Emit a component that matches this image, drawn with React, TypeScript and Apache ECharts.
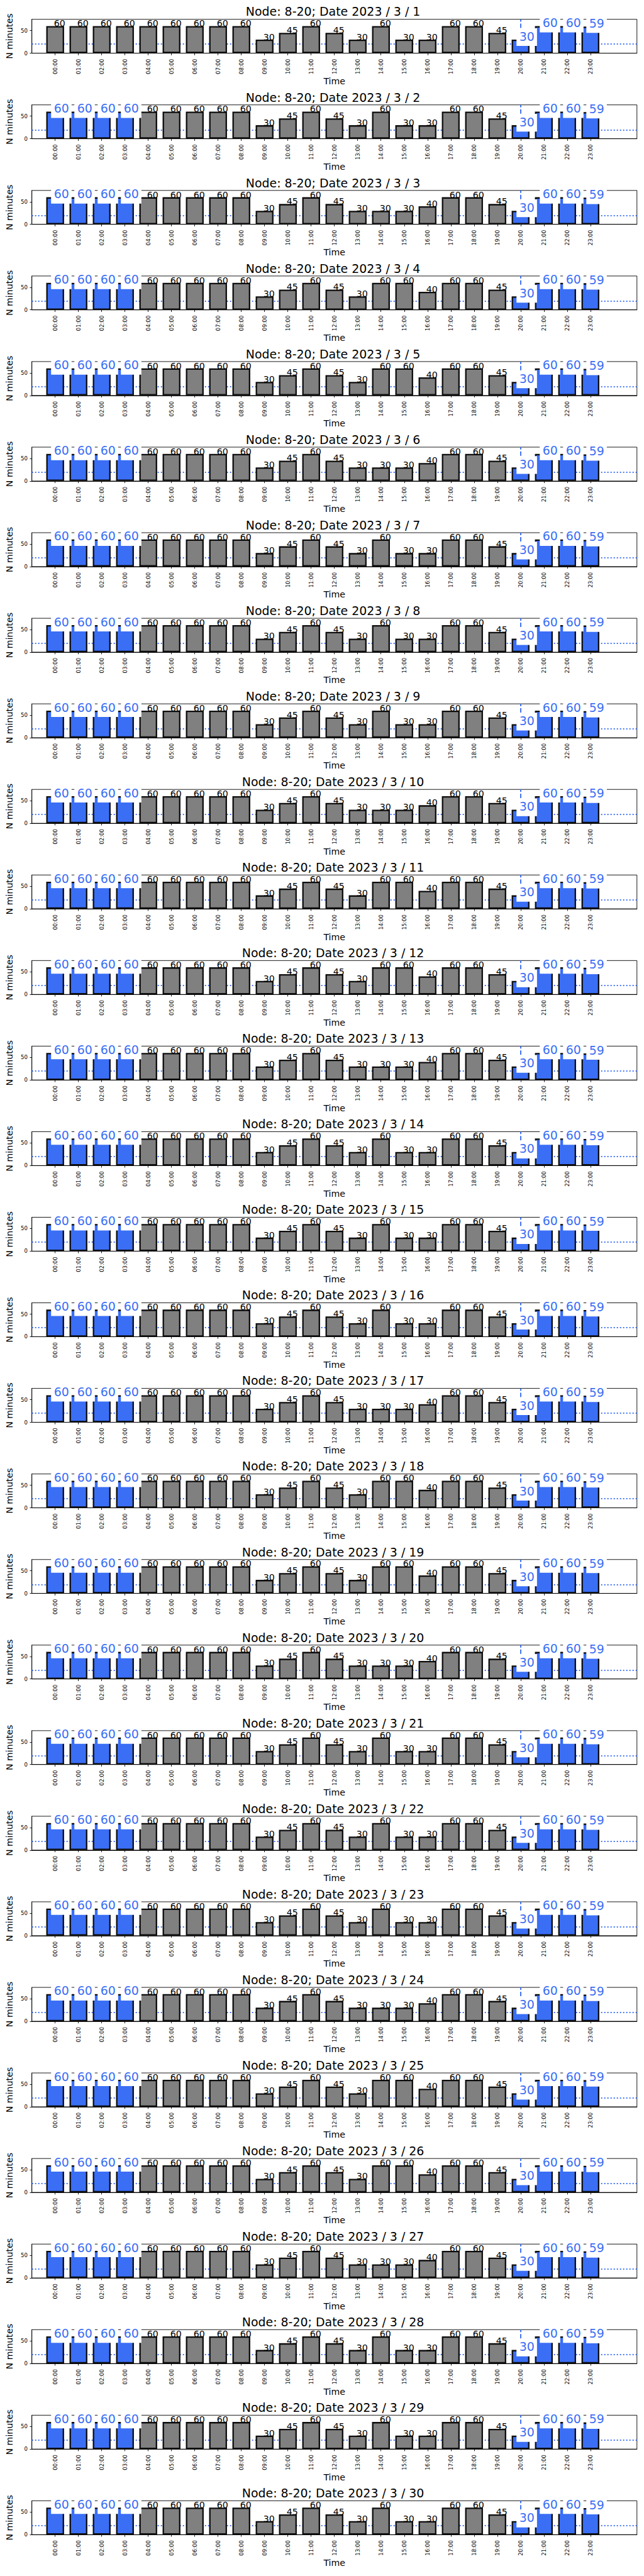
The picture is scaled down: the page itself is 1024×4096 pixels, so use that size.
import React, { useEffect, useRef } from 'react';
import * as echarts from 'echarts';

// ---------------- data ----------------
const NODE = '8-20';
const DATES = [
  '2023 / 3 / 1', '2023 / 3 / 2', '2023 / 3 / 3', '2023 / 3 / 4', '2023 / 3 / 5',
  '2023 / 3 / 6', '2023 / 3 / 7', '2023 / 3 / 8', '2023 / 3 / 9', '2023 / 3 / 10',
  '2023 / 3 / 11', '2023 / 3 / 12', '2023 / 3 / 13', '2023 / 3 / 14', '2023 / 3 / 15',
  '2023 / 3 / 16', '2023 / 3 / 17', '2023 / 3 / 18', '2023 / 3 / 19', '2023 / 3 / 20',
  '2023 / 3 / 21', '2023 / 3 / 22', '2023 / 3 / 23', '2023 / 3 / 24', '2023 / 3 / 25',
  '2023 / 3 / 26', '2023 / 3 / 27', '2023 / 3 / 28', '2023 / 3 / 29', '2023 / 3 / 30',
];
const HOURS = [
  '00:00', '01:00', '02:00', '03:00', '04:00', '05:00', '06:00', '07:00',
  '08:00', '09:00', '10:00', '11:00', '12:00', '13:00', '14:00', '15:00',
  '16:00', '17:00', '18:00', '19:00', '20:00', '21:00', '22:00', '23:00',
];
const Y_TICKS = [0, 50];
const Y_MAX = 75;
const THRESHOLD = 20;
const MARK_HOUR = '20:00';
const HIGHLIGHT_FIRST_DAY = [20, 21, 22, 23];
const HIGHLIGHT_OTHER_DAYS = [0, 1, 2, 3, 20, 21, 22, 23];

const MINUTES_BY_DAY: number[][] = [
  [60, 60, 60, 60, 60, 60, 60, 60, 60, 30, 45, 60, 45, 30, 60, 30, 30, 60, 60, 45, 30, 60, 60, 59], // 1
  [60, 60, 60, 60, 60, 60, 60, 60, 60, 30, 45, 60, 45, 30, 60, 30, 30, 60, 60, 45, 30, 60, 60, 59], // 2
  [60, 60, 60, 60, 60, 60, 60, 60, 60, 30, 45, 60, 45, 30, 30, 30, 40, 60, 60, 45, 30, 60, 60, 59], // 3
  [60, 60, 60, 60, 60, 60, 60, 60, 60, 30, 45, 60, 45, 30, 60, 60, 40, 60, 60, 45, 30, 60, 60, 59], // 4
  [60, 60, 60, 60, 60, 60, 60, 60, 60, 30, 45, 60, 45, 30, 60, 60, 40, 60, 60, 45, 30, 60, 60, 59], // 5
  [60, 60, 60, 60, 60, 60, 60, 60, 60, 30, 45, 60, 45, 30, 30, 30, 40, 60, 60, 45, 30, 60, 60, 59], // 6
  [60, 60, 60, 60, 60, 60, 60, 60, 60, 30, 45, 60, 45, 30, 60, 30, 30, 60, 60, 45, 30, 60, 60, 59], // 7
  [60, 60, 60, 60, 60, 60, 60, 60, 60, 30, 45, 60, 45, 30, 60, 30, 30, 60, 60, 45, 30, 60, 60, 59], // 8
  [60, 60, 60, 60, 60, 60, 60, 60, 60, 30, 45, 60, 45, 30, 60, 30, 30, 60, 60, 45, 30, 60, 60, 59], // 9
  [60, 60, 60, 60, 60, 60, 60, 60, 60, 30, 45, 60, 45, 30, 30, 30, 40, 60, 60, 45, 30, 60, 60, 59], // 10
  [60, 60, 60, 60, 60, 60, 60, 60, 60, 30, 45, 60, 45, 30, 60, 60, 40, 60, 60, 45, 30, 60, 60, 59], // 11
  [60, 60, 60, 60, 60, 60, 60, 60, 60, 30, 45, 60, 45, 30, 60, 60, 40, 60, 60, 45, 30, 60, 60, 59], // 12
  [60, 60, 60, 60, 60, 60, 60, 60, 60, 30, 45, 60, 45, 30, 30, 30, 40, 60, 60, 45, 30, 60, 60, 59], // 13
  [60, 60, 60, 60, 60, 60, 60, 60, 60, 30, 45, 60, 45, 30, 60, 30, 30, 60, 60, 45, 30, 60, 60, 59], // 14
  [60, 60, 60, 60, 60, 60, 60, 60, 60, 30, 45, 60, 45, 30, 60, 30, 30, 60, 60, 45, 30, 60, 60, 59], // 15
  [60, 60, 60, 60, 60, 60, 60, 60, 60, 30, 45, 60, 45, 30, 60, 30, 30, 60, 60, 45, 30, 60, 60, 59], // 16
  [60, 60, 60, 60, 60, 60, 60, 60, 60, 30, 45, 60, 45, 30, 30, 30, 40, 60, 60, 45, 30, 60, 60, 59], // 17
  [60, 60, 60, 60, 60, 60, 60, 60, 60, 30, 45, 60, 45, 30, 60, 60, 40, 60, 60, 45, 30, 60, 60, 59], // 18
  [60, 60, 60, 60, 60, 60, 60, 60, 60, 30, 45, 60, 45, 30, 60, 60, 40, 60, 60, 45, 30, 60, 60, 59], // 19
  [60, 60, 60, 60, 60, 60, 60, 60, 60, 30, 45, 60, 45, 30, 30, 30, 40, 60, 60, 45, 30, 60, 60, 59], // 20
  [60, 60, 60, 60, 60, 60, 60, 60, 60, 30, 45, 60, 45, 30, 60, 30, 30, 60, 60, 45, 30, 60, 60, 59], // 21
  [60, 60, 60, 60, 60, 60, 60, 60, 60, 30, 45, 60, 45, 30, 60, 30, 30, 60, 60, 45, 30, 60, 60, 59], // 22
  [60, 60, 60, 60, 60, 60, 60, 60, 60, 30, 45, 60, 45, 30, 60, 30, 30, 60, 60, 45, 30, 60, 60, 59], // 23
  [60, 60, 60, 60, 60, 60, 60, 60, 60, 30, 45, 60, 45, 30, 30, 30, 40, 60, 60, 45, 30, 60, 60, 59], // 24
  [60, 60, 60, 60, 60, 60, 60, 60, 60, 30, 45, 60, 45, 30, 60, 60, 40, 60, 60, 45, 30, 60, 60, 59], // 25
  [60, 60, 60, 60, 60, 60, 60, 60, 60, 30, 45, 60, 45, 30, 60, 60, 40, 60, 60, 45, 30, 60, 60, 59], // 26
  [60, 60, 60, 60, 60, 60, 60, 60, 60, 30, 45, 60, 45, 30, 30, 30, 40, 60, 60, 45, 30, 60, 60, 59], // 27
  [60, 60, 60, 60, 60, 60, 60, 60, 60, 30, 45, 60, 45, 30, 60, 30, 30, 60, 60, 45, 30, 60, 60, 59], // 28
  [60, 60, 60, 60, 60, 60, 60, 60, 60, 30, 45, 60, 45, 30, 60, 30, 30, 60, 60, 45, 30, 60, 60, 59], // 29
  [60, 60, 60, 60, 60, 60, 60, 60, 60, 30, 45, 60, 45, 30, 60, 30, 30, 60, 60, 45, 30, 60, 60, 59], // 30
];

// ---------------- styling / layout ----------------
const S = 0.682;
const px = (v: number) => v * S;
const W = 1023;
const H = 4092;
const FONT = "'DejaVu Sans', sans-serif";
const GREY = '#808080';
const BLUE = '#3A6EF5';
const EDGE = '#0d0d0d';

const GRID_LEFT = px(68);
const GRID_W = px(1417);
const GRID_TOP0 = px(45);
const GRID_H = px(79);
const PITCH = px(199.5);
const TITLE_X = px(776.5);
const TITLE_BASE0 = px(36.7);

const TITLE_FS = px(27.8);
const LABEL_FS = px(20.8);
const BLUE_FS = px(27.8);
const TICK_FS = px(12.5);
const AXNAME_FS = px(20.8);

// pad categories so that the axis spans from -1 to 25 (matplotlib xlim)
const AXIS_CATS = ['', ...HOURS, ' ', '  '];
const inRange = (idx: number) => idx >= 1 && idx <= HOURS.length;

function buildOption() {
  const grid: any[] = [];
  const xAxis: any[] = [];
  const yAxis: any[] = [];
  const series: any[] = [];
  const graphic: any[] = [];

  MINUTES_BY_DAY.forEach((vals, k) => {
    const top = GRID_TOP0 + k * PITCH;
    const blueSet = k === 0 ? HIGHLIGHT_FIRST_DAY : HIGHLIGHT_OTHER_DAYS;

    grid.push({
      left: GRID_LEFT, top, width: GRID_W, height: GRID_H,
      show: true, borderColor: '#000', borderWidth: 0.9, backgroundColor: 'transparent',
      containLabel: false,
    });

    xAxis.push({
      type: 'category', gridIndex: k, data: AXIS_CATS, boundaryGap: false,
      axisLine: { show: true, lineStyle: { color: '#000', width: 0.9 } },
      axisTick: { show: true, interval: (i: number) => inRange(i), length: 3.3, lineStyle: { color: '#000', width: 0.9 } },
      axisLabel: {
        show: true, interval: (i: number) => inRange(i), rotate: 90, fontSize: TICK_FS,
        color: '#000', fontFamily: FONT, margin: 8.9,
      },
      splitLine: { show: false },
      name: 'Time', nameLocation: 'middle', nameGap: 36.4,
      nameTextStyle: { fontSize: AXNAME_FS, lineHeight: AXNAME_FS, color: '#000', fontFamily: FONT },
    });

    yAxis.push({
      type: 'value', gridIndex: k, min: 0, max: Y_MAX,
      axisLine: { show: true, lineStyle: { color: '#000', width: 0.9 } },
      axisTick: { show: true, length: 3.3, lineStyle: { color: '#000', width: 0.9 }, customValues: Y_TICKS },
      axisLabel: { show: true, fontSize: TICK_FS, color: '#000', fontFamily: FONT, margin: 6.8, customValues: Y_TICKS },
      splitLine: { show: false },
      name: 'N minutes', nameLocation: 'middle', nameGap: 23, nameRotate: 90,
      nameTextStyle: { fontSize: AXNAME_FS, lineHeight: AXNAME_FS, color: '#000', fontFamily: FONT },
    });

    const data: any[] = AXIS_CATS.map((_, j) => {
      const h = j - 1;
      if (h < 0 || h >= HOURS.length) return '-';
      const v = vals[h];
      if (blueSet.includes(h)) {
        return {
          value: v,
          itemStyle: { color: BLUE },
          label: {
            color: BLUE, fontSize: BLUE_FS, lineHeight: BLUE_FS,
            backgroundColor: '#ffffff', padding: [3.3, 4, 6, 4.5],
            offset: [-6.5, 10.1],
          },
        };
      }
      return { value: v };
    });

    series.push({
      type: 'bar', xAxisIndex: k, yAxisIndex: k, barWidth: 28.4, z: 2,
      data,
      itemStyle: { color: GREY, borderColor: EDGE, borderWidth: 2.3 },
      label: {
        show: true, position: ['50%', 0], align: 'left', verticalAlign: 'bottom',
        offset: [-2, 3], fontSize: LABEL_FS, lineHeight: LABEL_FS, color: '#000', fontFamily: FONT,
      },
      emphasis: { disabled: true },
      markLine: {
        z: 1, silent: true, symbol: 'none', animation: false,
        label: { show: false },
        emphasis: { disabled: true },
        data: [
          { yAxis: THRESHOLD, lineStyle: { color: BLUE, width: 1.9, type: [1.9, 3.1] } },
          { xAxis: MARK_HOUR, lineStyle: { color: BLUE, width: 1.9, type: [7, 3] } },
        ],
      },
    });

    graphic.push({
      type: 'text', silent: true,
      x: TITLE_X, y: TITLE_BASE0 + k * PITCH - 0.346 * TITLE_FS,
      style: {
        text: `Node: ${NODE}; Date ${DATES[k]}`,
        fill: '#000', font: `${TITLE_FS}px ${FONT}`,
        align: 'center', verticalAlign: 'middle',
        textAlign: 'center', textVerticalAlign: 'middle',
      },
    });
  });

  return {
    animation: false,
    backgroundColor: '#ffffff',
    textStyle: { fontFamily: FONT },
    grid, xAxis, yAxis, series, graphic,
  };
}

export default function App() {
  const ref = useRef<HTMLDivElement>(null);
  useEffect(() => {
    document.body.style.margin = '0';
    if (!ref.current) return;
    const chart = echarts.init(ref.current, undefined, { renderer: 'svg' });
    chart.setOption(buildOption() as any);
    return () => chart.dispose();
  }, []);
  return <div ref={ref} style={{ position: 'absolute', left: 0, top: 0, width: W, height: H }} />;
}
